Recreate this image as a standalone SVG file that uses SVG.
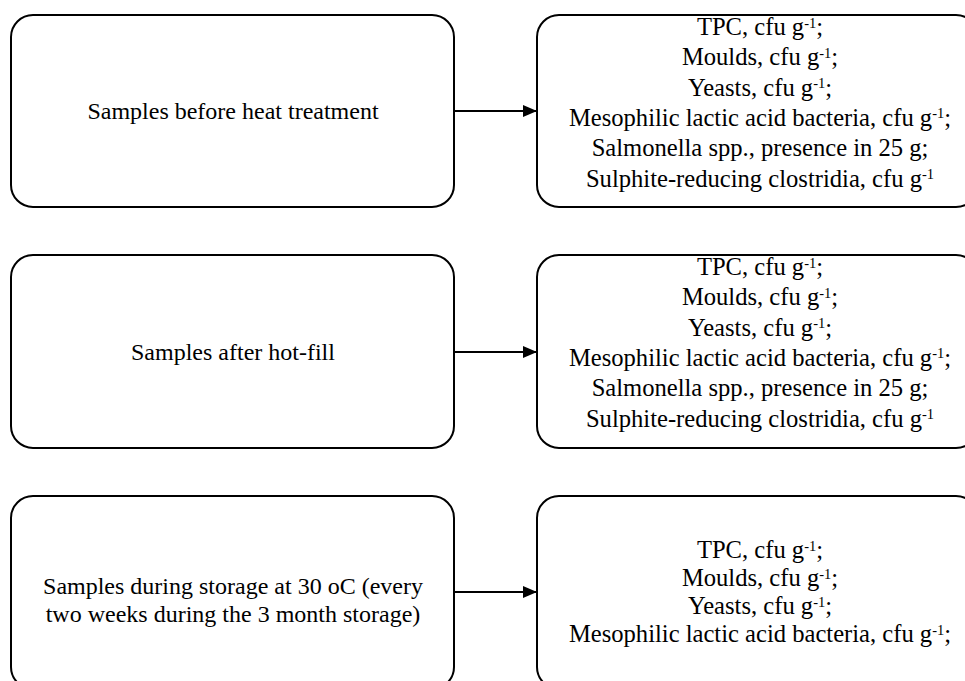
<svg xmlns="http://www.w3.org/2000/svg" width="965" height="681" viewBox="0 0 965 681">
  <style>
    .box { fill: #ffffff; stroke: #000000; stroke-width: 2; }
    .t { font-family: "Liberation Serif", "Times New Roman", serif; font-size: 24px; fill: #000000; text-anchor: middle; }
    .r { font-size: 24.6px; }
    .sup { font-size: 14.5px; }
    .conn { stroke: #000000; stroke-width: 2; fill: none; }
  </style>
  <defs>
    <marker id="arrow" markerUnits="userSpaceOnUse" markerWidth="14" markerHeight="12" refX="14" refY="6" orient="auto">
      <path d="M0,0 L14,6 L0,12 Z" fill="#000000"/>
    </marker>
  </defs>
  <rect width="965" height="681" fill="#ffffff"/>

  <g id="connectors">
    <line class="conn" x1="454" y1="111" x2="537" y2="111" marker-end="url(#arrow)"/>
    <line class="conn" x1="454" y1="352" x2="537" y2="352" marker-end="url(#arrow)"/>
    <line class="conn" x1="454" y1="592" x2="537" y2="592" marker-end="url(#arrow)"/>
  </g>

  <g id="node-before">
    <rect class="box" x="11" y="15" width="443" height="192" rx="22" ry="22"/>
    <text class="t" x="233" y="119">Samples before heat treatment</text>
  </g>

  <g id="node-before-tests">
    <rect class="box" x="537" y="15" width="441" height="192" rx="22" ry="22"/>
    <text class="t r" x="760" y="35">TPC, cfu g<tspan class="sup" dy="-7.5">-1</tspan><tspan dy="7.5">;</tspan></text>
    <text class="t r" x="760" y="65.3">Moulds, cfu g<tspan class="sup" dy="-7.5">-1</tspan><tspan dy="7.5">;</tspan></text>
    <text class="t r" x="760" y="95.6">Yeasts, cfu g<tspan class="sup" dy="-7.5">-1</tspan><tspan dy="7.5">;</tspan></text>
    <text class="t r" x="760" y="125.9">Mesophilic lactic acid bacteria, cfu g<tspan class="sup" dy="-7.5">-1</tspan><tspan dy="7.5">;</tspan></text>
    <text class="t r" x="760" y="156.2">Salmonella spp., presence in 25 g;</text>
    <text class="t r" x="760" y="186.5">Sulphite-reducing clostridia, cfu g<tspan class="sup" dy="-7.5">-1</tspan></text>
  </g>

  <g id="node-after">
    <rect class="box" x="11" y="255" width="443" height="193" rx="22" ry="22"/>
    <text class="t" x="233" y="360">Samples after hot-fill</text>
  </g>

  <g id="node-after-tests">
    <rect class="box" x="537" y="255" width="441" height="193" rx="22" ry="22"/>
    <text class="t r" x="760" y="275">TPC, cfu g<tspan class="sup" dy="-7.5">-1</tspan><tspan dy="7.5">;</tspan></text>
    <text class="t r" x="760" y="305.3">Moulds, cfu g<tspan class="sup" dy="-7.5">-1</tspan><tspan dy="7.5">;</tspan></text>
    <text class="t r" x="760" y="335.6">Yeasts, cfu g<tspan class="sup" dy="-7.5">-1</tspan><tspan dy="7.5">;</tspan></text>
    <text class="t r" x="760" y="365.9">Mesophilic lactic acid bacteria, cfu g<tspan class="sup" dy="-7.5">-1</tspan><tspan dy="7.5">;</tspan></text>
    <text class="t r" x="760" y="396.2">Salmonella spp., presence in 25 g;</text>
    <text class="t r" x="760" y="426.5">Sulphite-reducing clostridia, cfu g<tspan class="sup" dy="-7.5">-1</tspan></text>
  </g>

  <g id="node-storage">
    <rect class="box" x="11" y="496" width="443" height="193" rx="22" ry="22"/>
    <text class="t" x="233" y="594">Samples during storage at 30 oC (every</text>
    <text class="t" x="233" y="622">two weeks during the 3 month storage)</text>
  </g>

  <g id="node-storage-tests">
    <rect class="box" x="537" y="496" width="441" height="193" rx="22" ry="22"/>
    <text class="t r" x="760" y="558">TPC, cfu g<tspan class="sup" dy="-7.5">-1</tspan><tspan dy="7.5">;</tspan></text>
    <text class="t r" x="760" y="586">Moulds, cfu g<tspan class="sup" dy="-7.5">-1</tspan><tspan dy="7.5">;</tspan></text>
    <text class="t r" x="760" y="614">Yeasts, cfu g<tspan class="sup" dy="-7.5">-1</tspan><tspan dy="7.5">;</tspan></text>
    <text class="t r" x="760" y="642">Mesophilic lactic acid bacteria, cfu g<tspan class="sup" dy="-7.5">-1</tspan><tspan dy="7.5">;</tspan></text>
  </g>
</svg>
